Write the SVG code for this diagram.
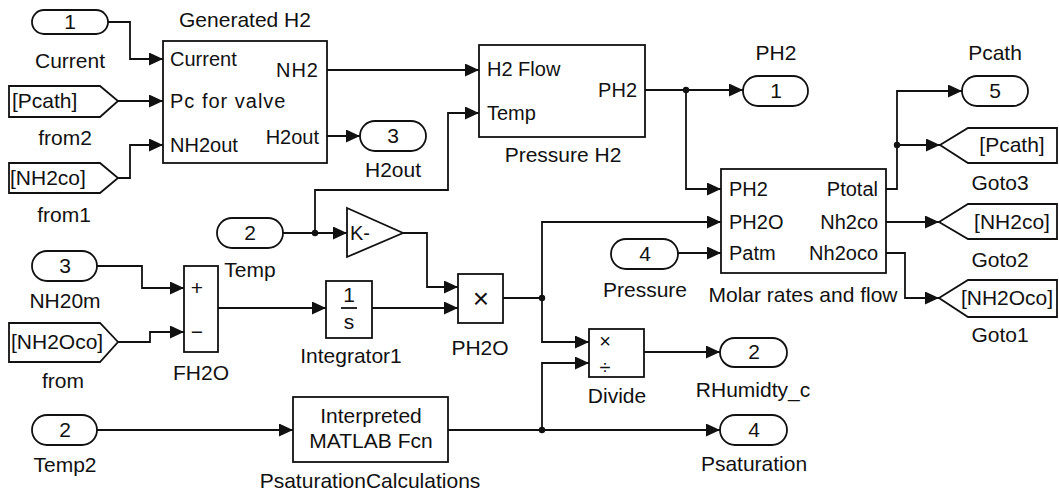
<svg xmlns="http://www.w3.org/2000/svg" width="1059" height="496" viewBox="0 0 1059 496">
<style>
text{font-family:"Liberation Sans",Arial,sans-serif;font-size:20px;fill:#111}
.lb{font-size:21px}
.c{text-anchor:middle}
.r{text-anchor:end}
.op{font-size:28px}
.blk{fill:#fff;stroke:#111;stroke-width:1.8}
.wire{fill:none;stroke:#111;stroke-width:1.8}
.arr{fill:none;stroke:#111;stroke-width:1.8;marker-end:url(#ah)}
</style>
<defs>
<marker id="ah" markerUnits="userSpaceOnUse" markerWidth="15" markerHeight="13" refX="14" refY="6.5" orient="auto">
<path d="M0,0 L14,6.5 L0,13 z" fill="#111"/>
</marker>
</defs>
<rect width="1059" height="496" fill="#fff"/>

<g id="connectors">
<path class="arr" d="M108,22 H130 V59 H163"/>
<path class="arr" d="M118,101 H163"/>
<path class="arr" d="M118,178 H130 V145 H163"/>
<path class="arr" d="M327,70 H479"/>
<path class="arr" d="M327,136 H360"/>
<path class="arr" d="M283,233 H347"/>
<path class="arr" d="M315,233 V190 H448 V113 H479"/>
<path class="arr" d="M645,90 H743"/>
<path class="arr" d="M686,90 V189 H721"/>
<path class="arr" d="M886,189 H897 V91 H962"/>
<path class="arr" d="M897,145 H940"/>
<path class="arr" d="M886,222 H939"/>
<path class="arr" d="M886,253 H905 V298 H939"/>
<path class="arr" d="M97,266 H142 V288 H184"/>
<path class="arr" d="M118,342 H150 V332 H184"/>
<path class="arr" d="M218,308 H326"/>
<path class="arr" d="M372,308 H458"/>
<path class="arr" d="M403,233 H427 V287 H458"/>
<path class="arr" d="M503,298 H542 V222 H721"/>
<path class="arr" d="M542,298 V342 H589"/>
<path class="arr" d="M678,253 H721"/>
<path class="arr" d="M644,352 H720"/>
<path class="arr" d="M97,430 H293"/>
<path class="arr" d="M448,430 H720"/>
<path class="arr" d="M542,430 V363 H589"/>
<circle cx="315" cy="233" r="3.2" fill="#111"/>
<circle cx="686" cy="90" r="3.2" fill="#111"/>
<circle cx="897" cy="145" r="3.2" fill="#111"/>
<circle cx="542" cy="298" r="3.2" fill="#111"/>
<circle cx="542" cy="430" r="3.2" fill="#111"/>
</g>

<g id="in_current">
<rect class="blk" x="32" y="10" width="76" height="24" rx="12"/>
<text class="c lb" x="70" y="29">1</text>
<text class="c lb" x="70" y="68">Current</text>
</g>

<g id="from2">
<polygon class="blk" points="9,86 100,86 118,101 100,117 9,117"/>
<text class="lb" x="12" y="108">[Pcath]</text>
<text class="c lb" x="65" y="145">from2</text>
</g>

<g id="from1">
<polygon class="blk" points="9,163 100,163 118,178 100,193 9,193"/>
<text class="lb" x="10" y="185">[NH2co]</text>
<text class="c lb" x="64" y="222">from1</text>
</g>

<g id="generated_h2">
<rect class="blk" x="163" y="41" width="164" height="122"/>
<text class="c lb" x="245" y="27">Generated H2</text>
<text x="170" y="66">Current</text>
<text x="170" y="108" style="letter-spacing:1px">Pc for valve</text>
<text x="170" y="152">NH2out</text>
<text class="r" x="319" y="77" style="letter-spacing:1px">NH2</text>
<text class="r" x="319" y="144">H2out</text>
</g>

<g id="out_h2out">
<rect class="blk" x="360" y="121" width="66" height="30" rx="15"/>
<text class="c lb" x="393" y="143">3</text>
<text class="c lb" x="393" y="177">H2out</text>
</g>

<g id="pressure_h2">
<rect class="blk" x="479" y="45" width="166" height="92"/>
<text x="487" y="76">H2 Flow</text>
<text x="487" y="120">Temp</text>
<text class="r" x="637" y="97">PH2</text>
<text class="c lb" x="563" y="162">Pressure H2</text>
</g>

<g id="out_ph2">
<rect class="blk" x="743" y="76" width="65" height="30" rx="15"/>
<text class="c lb" x="776" y="98">1</text>
<text class="c lb" x="776" y="60">PH2</text>
</g>

<g id="out_pcath">
<rect class="blk" x="962" y="76" width="66" height="30" rx="15"/>
<text class="c lb" x="995" y="98">5</text>
<text class="c lb" x="995" y="60">Pcath</text>
</g>

<g id="goto3">
<polygon class="blk" points="940,145 968,128 1057,128 1057,163 968,163"/>
<text class="c lb" x="1012" y="152">[Pcath]</text>
<text class="c lb" x="1000" y="190">Goto3</text>
</g>

<g id="goto2">
<polygon class="blk" points="939,222 968,204 1057,204 1057,239 968,239"/>
<text class="c lb" x="1012" y="229">[NH2co]</text>
<text class="c lb" x="1000" y="267">Goto2</text>
</g>

<g id="goto1">
<polygon class="blk" points="939,298 968,280 1057,280 1057,317 968,317"/>
<text class="c lb" x="1007" y="305">[NH2Oco]</text>
<text class="c lb" x="1000" y="342">Goto1</text>
</g>

<g id="molar">
<rect class="blk" x="721" y="169" width="165" height="104"/>
<text x="729" y="196">PH2</text>
<text x="729" y="229">PH2O</text>
<text x="729" y="260">Patm</text>
<text class="r" x="878" y="196">Ptotal</text>
<text class="r" x="878" y="229">Nh2co</text>
<text class="r" x="878" y="260">Nh2oco</text>
<text class="c lb" x="803" y="302">Molar rates and flow</text>
</g>

<g id="in_temp">
<rect class="blk" x="217" y="218" width="66" height="30" rx="15"/>
<text class="c lb" x="250" y="240">2</text>
<text class="c lb" x="250" y="277">Temp</text>
</g>

<g id="gain">
<polygon class="blk" points="347,208 403,233 347,257"/>
<text x="350" y="240">K-</text>
</g>

<g id="in_nh20m">
<rect class="blk" x="32" y="251" width="65" height="30" rx="15"/>
<text class="c lb" x="65" y="273">3</text>
<text class="c lb" x="65" y="308">NH20m</text>
</g>

<g id="from">
<polygon class="blk" points="9,323 100,323 118,342 100,362 9,362"/>
<text class="lb" x="11" y="349">[NH2Oco]</text>
<text class="c lb" x="63" y="388">from</text>
</g>

<g id="fh2o">
<rect class="blk" x="184" y="266" width="34" height="86"/>
<text class="c lb" x="197" y="295">+</text>
<text class="c lb" x="197" y="339">−</text>
<text class="c lb" x="201" y="380">FH2O</text>
</g>

<g id="integrator1">
<rect class="blk" x="326" y="281" width="46" height="57"/>
<text class="c lb" x="349" y="302">1</text>
<line x1="341" y1="308" x2="357" y2="308" stroke="#111" stroke-width="1.8"/>
<text class="c lb" x="349" y="329">s</text>
<text class="c lb" x="351" y="363">Integrator1</text>
</g>

<g id="ph2o">
<rect class="blk" x="458" y="274" width="45" height="49"/>
<text class="c op" x="481" y="308">×</text>
<text class="c lb" x="480" y="355">PH2O</text>
</g>

<g id="in_pressure">
<rect class="blk" x="611" y="239" width="67" height="30" rx="15"/>
<text class="c lb" x="645" y="261">4</text>
<text class="c lb" x="645" y="297">Pressure</text>
</g>

<g id="divide">
<rect class="blk" x="589" y="329" width="55" height="48"/>
<text class="c" x="605" y="348" style="font-size:20px">×</text>
<text class="c" x="605" y="374" style="font-size:20px">÷</text>
<text class="c lb" x="617" y="403">Divide</text>
</g>

<g id="out_rhumidity">
<rect class="blk" x="720" y="338" width="67" height="29" rx="14.5"/>
<text class="c lb" x="754" y="359">2</text>
<text class="c lb" x="753" y="397">RHumidty_c</text>
</g>

<g id="in_temp2">
<rect class="blk" x="32" y="415" width="65" height="30" rx="15"/>
<text class="c lb" x="65" y="437">2</text>
<text class="c lb" x="65" y="472">Temp2</text>
</g>

<g id="psat_calc">
<rect class="blk" x="293" y="397" width="155" height="65"/>
<text class="c lb" x="371" y="423">Interpreted</text>
<text class="c lb" x="371" y="448">MATLAB Fcn</text>
<text class="c lb" x="370" y="488">PsaturationCalculations</text>
</g>

<g id="out_psaturation">
<rect class="blk" x="720" y="415" width="67" height="30" rx="15"/>
<text class="c lb" x="754" y="437">4</text>
<text class="c lb" x="754" y="471">Psaturation</text>
</g>
</svg>
